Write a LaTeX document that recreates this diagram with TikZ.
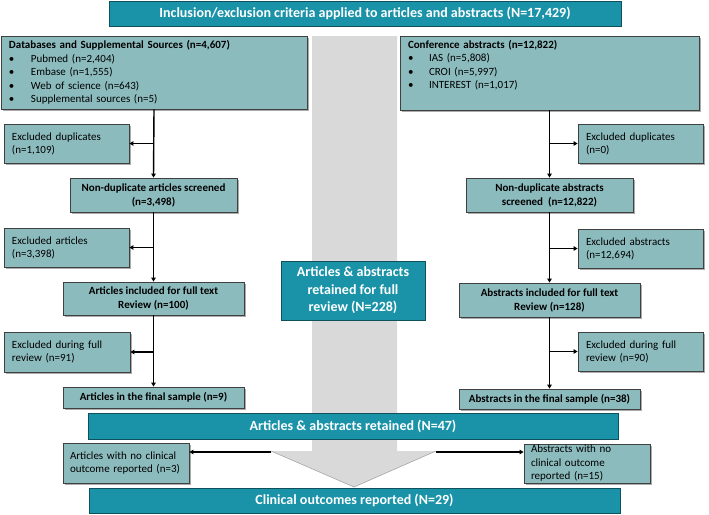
\documentclass[tikz,border=0pt]{standalone}
\usepackage{fontspec}
\setmainfont{Carlito}
\usetikzlibrary{arrows.meta,shadows}
\definecolor{barteal}{HTML}{1A93A8}
\definecolor{boxfill}{HTML}{8CBBBE}
\definecolor{grayarrow}{HTML}{D9D9D9}
\begin{document}
\begin{tikzpicture}[x=1pt,y=-1pt,
  bar/.style={draw=barteal!55!black, fill=barteal, text=white, font=\fontsize{14}{17}\selectfont\bfseries, inner sep=0pt, line width=0.8pt},
  cbox/.style={draw=barteal!55!black, fill=barteal, text=white, font=\fontsize{14}{17.5}\selectfont\bfseries, inner sep=0pt, line width=0.8pt, align=center},
  box/.style={draw=black!75, fill=boxfill, line width=0.8pt, drop shadow={shadow xshift=1.5pt, shadow yshift=-1.5pt, fill=black!55, opacity=0.6}, font=\fontsize{11}{13}\selectfont, inner sep=0pt},
  lbox/.style={box, align=left, text width=#1},
  listbox/.style={box, align=left, text width=#1, font=\fontsize{11}{13.5}\selectfont},
  bbox/.style={box, align=center, font=\fontsize{11}{14}\selectfont\bfseries},
  flow/.style={line width=1.4pt, -{Triangle[length=4pt,width=4.5pt]}},
]
\useasboundingbox (0,0) rectangle (709,514);
% big gray arrow
\fill[grayarrow] (312,36) -- (397,36) -- (397,451) -- (436,451) -- (354,487) -- (271,451) -- (312,451) -- cycle;
\draw[black!35, line width=0.6pt] (271,451) -- (354,487) -- (436,451);

% bars
\node[bar, minimum width=512, minimum height=25] (top) at (365,13.5) {Inclusion/exclusion criteria applied to articles and abstracts (N=17,429)};
\node[bar, minimum width=530, minimum height=26] (mid) at (353,426) {Articles \& abstracts retained (N=47)};
\node[bar, minimum width=531, minimum height=25] (bot) at (354.5,500.5) {Clinical outcomes reported (N=29)};
\node[cbox, minimum width=144, minimum height=59] (ctr) at (353,290.5) {Articles \& abstracts\\retained for full\\review (N=228)};

% left column
\node[listbox=290pt, minimum width=306, minimum height=73] (db) at (154,72.5) {\textbf{Databases and Supplemental Sources (n=4,607)}\\
\makebox[22pt][l]{\textbullet}Pubmed (n=2,404)\\
\makebox[22pt][l]{\textbullet}Embase (n=1,555)\\
\makebox[22pt][l]{\textbullet}Web of science (n=643)\\
\makebox[22pt][l]{\textbullet}Supplemental sources (n=5)};
\node[lbox=109pt, minimum width=125, minimum height=39] (exd) at (66.5,143.5) {Excluded duplicates\\(n=1,109)};
\node[bbox, minimum width=167, minimum height=34] (nd) at (153.5,195) {Non-duplicate articles screened\\(n=3,498)};
\node[lbox=109pt, minimum width=125, minimum height=39] (exa) at (66.5,247.5) {Excluded articles\\(n=3,398)};
\node[bbox, minimum width=181, minimum height=33] (ai) at (153.5,298.5) {Articles included for full text\\Review (n=100)};
\node[lbox=110pt, minimum width=126, minimum height=40] (exf) at (67,352) {Excluded during full\\review (n=91)};
\node[bbox, minimum width=181, minimum height=21] (fs) at (153.5,397.5) {Articles in the final sample (n=9)};
\node[lbox=112pt, minimum width=126, minimum height=40] (nco) at (126,463) {Articles with no clinical\\outcome reported (n=3)};

% right column
\node[listbox=283pt, minimum width=299, minimum height=74] (conf) at (549.5,73) {\textbf{Conference abstracts (n=12,822)}\\
\makebox[21pt][l]{\textbullet}IAS (n=5,808)\\
\makebox[21pt][l]{\textbullet}CROI (n=5,997)\\
\makebox[21pt][l]{\textbullet}INTEREST (n=1,017)\\
\strut};
\node[lbox=109pt, minimum width=125, minimum height=39] (exd2) at (640.5,143.5) {Excluded duplicates\\(n=0)};
\node[bbox, minimum width=167, minimum height=34] (nd2) at (549.5,195) {Non-duplicate abstracts\\screened~ (n=12,822)};
\node[lbox=109pt, minimum width=125, minimum height=39] (exa2) at (640.5,248.5) {Excluded abstracts\\(n=12,694)};
\node[bbox, minimum width=181, minimum height=34] (ai2) at (549.5,300) {Abstracts included for full text\\Review (n=128)};
\node[lbox=109pt, minimum width=125, minimum height=39] (exf2) at (640.5,351.5) {Excluded during full\\review (n=90)};
\node[bbox, minimum width=181, minimum height=20] (fs2) at (549.5,399) {Abstracts in the final sample (n=38)};
\node[listbox=112pt, minimum width=126, minimum height=39] (nco2) at (587,463.5) {Abstracts with no\\clinical outcome\\reported (n=15)};

% left connectors
\draw[flow] (db.south) -- (nd.north);
\draw[flow] (db.south |- exd.east) -- (exd.east);
\draw[flow] (nd.south) -- (ai.north);
\draw[flow] (nd.south |- exa.east) -- (exa.east);
\draw[flow] (ai.south) -- (fs.north);
\draw[flow] (ai.south |- exf.east) -- (exf.east);
% right connectors
\draw[flow] (conf.south) -- (nd2.north);
\draw[flow] (conf.south |- exd2.west) -- (exd2.west);
\draw[flow] (nd2.south) -- (ai2.north);
\draw[flow] (nd2.south |- exa2.west) -- (exa2.west);
\draw[flow] (ai2.south) -- (fs2.north);
\draw[flow] (ai2.south |- exf2.west) -- (exf2.west);
% bottom side arrows
\coordinate (hl) at (271,452);
\coordinate (hr) at (436,452);
\draw[flow] (hl) -- (hl -| nco.east);
\draw[flow] (hr) -- (hr -| nco2.west);
\end{tikzpicture}
\end{document}
